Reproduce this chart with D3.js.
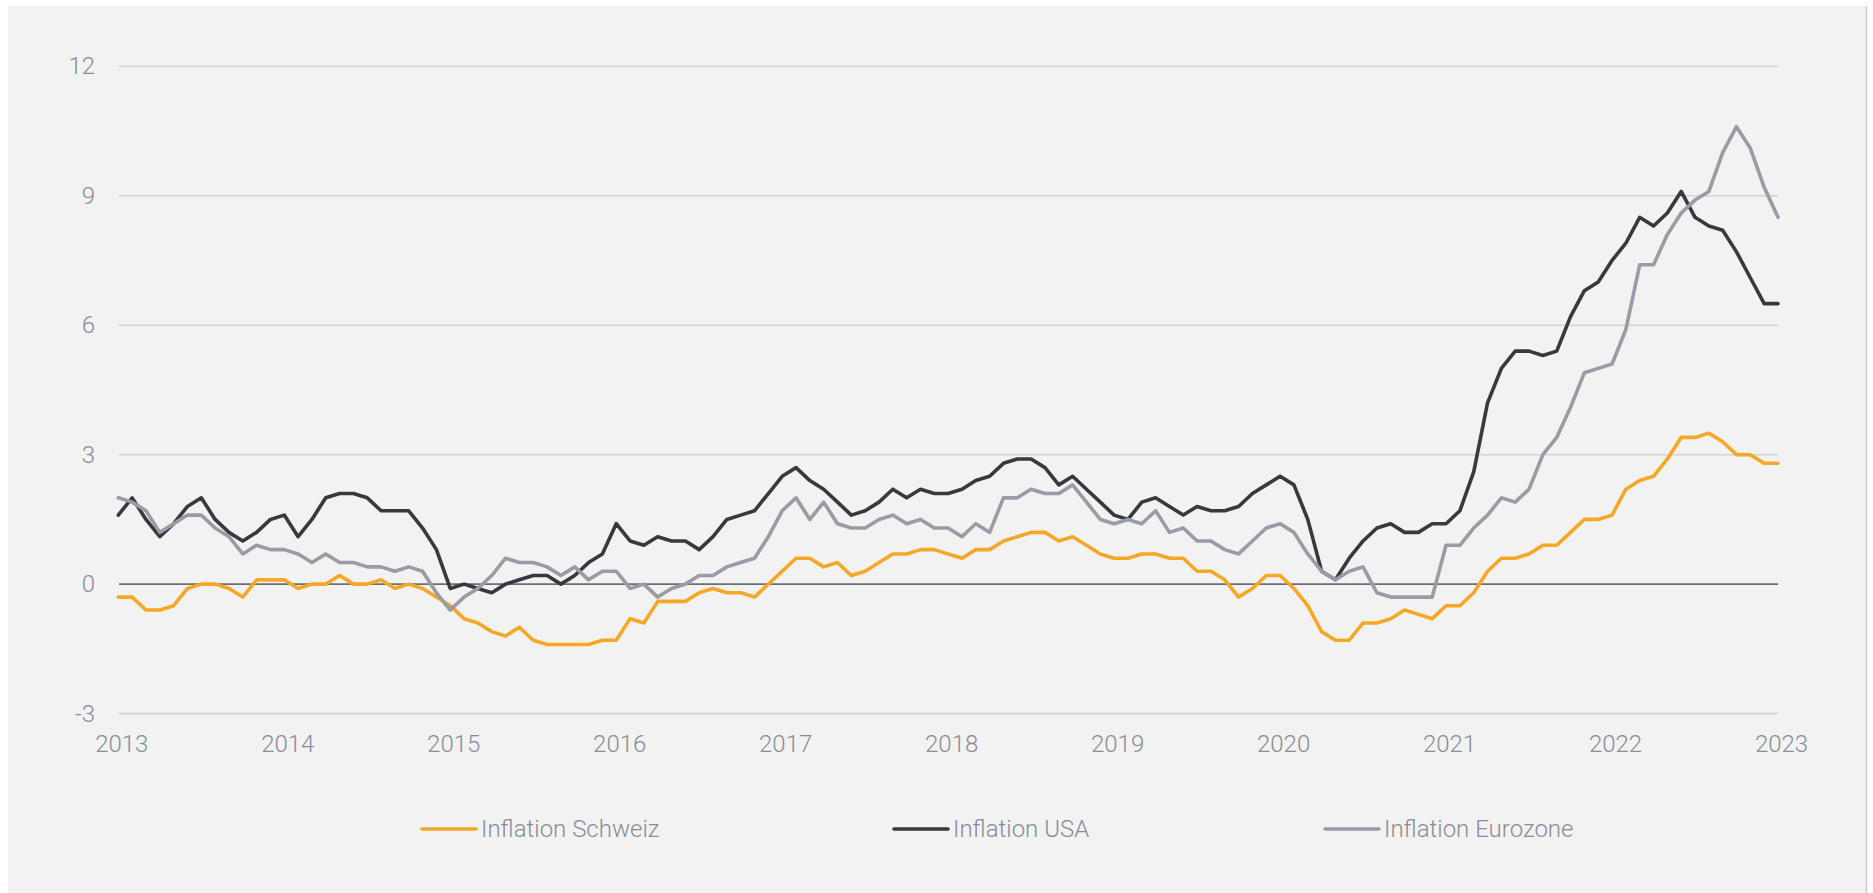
<!DOCTYPE html>
<html>
<head>
<meta charset="utf-8">
<script src="https://cdn.jsdelivr.net/npm/d3@7"></script>
<style>
  body { margin: 0; background: #ffffff; }
  text { font-family: Roboto, "Noto Sans", sans-serif; font-weight: 300; fill: #8a8c96; }
</style>
</head>
<body>
<div id="container"></div>
<script>
/* CONSTANTS AND GLOBALS */
const width = 1873,
  height = 893,
  margin = { top: 66.3, bottom: 179.4, left: 118.3, right: 95 };

// monthly values, Jan 2013 .. Jan 2023
const years = [2013, 2014, 2015, 2016, 2017, 2018, 2019, 2020, 2021, 2022, 2023];
const yTicks = [-3, 0, 3, 6, 9, 12];

const swiss = [
  -0.3, -0.3, -0.6, -0.6, -0.5, -0.1, 0.0, 0.0, -0.1, -0.3, 0.1, 0.1,
  0.1, -0.1, 0.0, 0.0, 0.2, 0.0, 0.0, 0.1, -0.1, 0.0, -0.1, -0.3,
  -0.5, -0.8, -0.9, -1.1, -1.2, -1.0, -1.3, -1.4, -1.4, -1.4, -1.4, -1.3,
  -1.3, -0.8, -0.9, -0.4, -0.4, -0.4, -0.2, -0.1, -0.2, -0.2, -0.3, 0.0,
  0.3, 0.6, 0.6, 0.4, 0.5, 0.2, 0.3, 0.5, 0.7, 0.7, 0.8, 0.8,
  0.7, 0.6, 0.8, 0.8, 1.0, 1.1, 1.2, 1.2, 1.0, 1.1, 0.9, 0.7,
  0.6, 0.6, 0.7, 0.7, 0.6, 0.6, 0.3, 0.3, 0.1, -0.3, -0.1, 0.2,
  0.2, -0.1, -0.5, -1.1, -1.3, -1.3, -0.9, -0.9, -0.8, -0.6, -0.7, -0.8,
  -0.5, -0.5, -0.2, 0.3, 0.6, 0.6, 0.7, 0.9, 0.9, 1.2, 1.5, 1.5,
  1.6, 2.2, 2.4, 2.5, 2.9, 3.4, 3.4, 3.5, 3.3, 3.0, 3.0, 2.8,
  2.8
];

const usa = [
  1.6, 2.0, 1.5, 1.1, 1.4, 1.8, 2.0, 1.5, 1.2, 1.0, 1.2, 1.5,
  1.6, 1.1, 1.5, 2.0, 2.1, 2.1, 2.0, 1.7, 1.7, 1.7, 1.3, 0.8,
  -0.1, 0.0, -0.1, -0.2, 0.0, 0.1, 0.2, 0.2, 0.0, 0.2, 0.5, 0.7,
  1.4, 1.0, 0.9, 1.1, 1.0, 1.0, 0.8, 1.1, 1.5, 1.6, 1.7, 2.1,
  2.5, 2.7, 2.4, 2.2, 1.9, 1.6, 1.7, 1.9, 2.2, 2.0, 2.2, 2.1,
  2.1, 2.2, 2.4, 2.5, 2.8, 2.9, 2.9, 2.7, 2.3, 2.5, 2.2, 1.9,
  1.6, 1.5, 1.9, 2.0, 1.8, 1.6, 1.8, 1.7, 1.7, 1.8, 2.1, 2.3,
  2.5, 2.3, 1.5, 0.3, 0.1, 0.6, 1.0, 1.3, 1.4, 1.2, 1.2, 1.4,
  1.4, 1.7, 2.6, 4.2, 5.0, 5.4, 5.4, 5.3, 5.4, 6.2, 6.8, 7.0,
  7.5, 7.9, 8.5, 8.3, 8.6, 9.1, 8.5, 8.3, 8.2, 7.7, 7.1, 6.5,
  6.5
];

const euro = [
  2.0, 1.9, 1.7, 1.2, 1.4, 1.6, 1.6, 1.3, 1.1, 0.7, 0.9, 0.8,
  0.8, 0.7, 0.5, 0.7, 0.5, 0.5, 0.4, 0.4, 0.3, 0.4, 0.3, -0.2,
  -0.6, -0.3, -0.1, 0.2, 0.6, 0.5, 0.5, 0.4, 0.2, 0.4, 0.1, 0.3,
  0.3, -0.1, 0.0, -0.3, -0.1, 0.0, 0.2, 0.2, 0.4, 0.5, 0.6, 1.1,
  1.7, 2.0, 1.5, 1.9, 1.4, 1.3, 1.3, 1.5, 1.6, 1.4, 1.5, 1.3,
  1.3, 1.1, 1.4, 1.2, 2.0, 2.0, 2.2, 2.1, 2.1, 2.3, 1.9, 1.5,
  1.4, 1.5, 1.4, 1.7, 1.2, 1.3, 1.0, 1.0, 0.8, 0.7, 1.0, 1.3,
  1.4, 1.2, 0.7, 0.3, 0.1, 0.3, 0.4, -0.2, -0.3, -0.3, -0.3, -0.3,
  0.9, 0.9, 1.3, 1.6, 2.0, 1.9, 2.2, 3.0, 3.4, 4.1, 4.9, 5.0,
  5.1, 5.9, 7.4, 7.4, 8.1, 8.6, 8.9, 9.1, 10.0, 10.6, 10.1, 9.2,
  8.5
];

const seriesNames = ["Inflation Schweiz", "Inflation USA", "Inflation Eurozone"];
const seriesColors = ["#f5a827", "#38393e", "#9a9ca5"];

const series = [swiss, usa, euro].map((values, i) => ({
  name: seriesNames[i],
  color: seriesColors[i],
  values: values
}));

/* SCALES */
const xScale = d3.scaleLinear()
  .domain([0, (years.length - 1) * 12])
  .range([margin.left, width - margin.right]);

const yScale = d3.scaleLinear()
  .domain([-3, 12])
  .range([713.6, margin.top]);

/* SVG */
const svg = d3.select("#container")
  .append("svg")
  .attr("width", width)
  .attr("height", height);

// panel
svg.append("rect")
  .attr("x", 8)
  .attr("y", 6)
  .attr("width", 1858)
  .attr("height", height)
  .attr("fill", "#f2f2f2");

svg.append("line")
  .attr("x1", 1866.5).attr("x2", 1866.5)
  .attr("y1", 6).attr("y2", height)
  .attr("stroke", "#c9c9ce")
  .attr("stroke-width", 1.5);

// gridlines
svg.append("g")
  .attr("class", "grid")
  .selectAll("line")
  .data(yTicks)
  .join("line")
  .attr("x1", xScale.range()[0] + 0.7)
  .attr("x2", xScale.range()[1])
  .attr("y1", d => yScale(d))
  .attr("y2", d => yScale(d))
  .attr("stroke", d => d === 0 ? "#6c6e76" : "#d3d3d7")
  .attr("stroke-width", 1.6);

/* AXES */
// plain hyphen for negatives, like the original
const yAxis = d3.axisLeft(yScale)
  .tickValues(yTicks)
  .tickFormat(d => String(d))
  .tickSize(0)
  .tickPadding(24);

const yAxisGroup = svg.append("g")
  .attr("class", "yAxis")
  .attr("transform", `translate(${119}, 0)`)
  .call(yAxis);

const xAxis = d3.axisBottom(xScale)
  .tickValues(years.map((y, i) => i * 12))
  .tickFormat((d, i) => years[i])
  .tickSize(0)
  .tickPadding(21);

const xAxisGroup = svg.append("g")
  .attr("class", "xAxis")
  .attr("transform", `translate(3, ${yScale(-3)})`)
  .call(xAxis);

[yAxisGroup, xAxisGroup].forEach(g => {
  g.select(".domain").remove();
  g.selectAll("text")
    .attr("fill", "#8a8c96")
    .style("font-family", "Roboto, 'Noto Sans', sans-serif")
    .style("font-weight", 300)
    .style("font-size", "24px");
});

/* LINES */
const lineGen = d3.line()
  .x((d, i) => xScale(i))
  .y(d => yScale(d));

svg.append("g")
  .attr("class", "lines")
  .selectAll("path")
  .data(series)
  .join("path")
  .attr("d", d => lineGen(d.values))
  .attr("fill", "none")
  .attr("stroke", d => d.color)
  .attr("stroke-width", 3.6)
  .attr("stroke-linejoin", "round")
  .attr("stroke-linecap", "round");

/* LEGEND */
const legendX = [422, 894, 1325];

const legend = svg.append("g")
  .attr("class", "legend")
  .selectAll("g")
  .data(series)
  .join("g")
  .attr("transform", (d, i) => `translate(${legendX[i]}, ${829})`);

legend.append("line")
  .attr("x1", 0).attr("x2", 54)
  .attr("stroke", d => d.color)
  .attr("stroke-width", 3.6)
  .attr("stroke-linecap", "round");

legend.append("text")
  .attr("x", 59)
  .attr("y", 8)
  .style("font-size", "24px")
  .text(d => d.name);
</script>
</body>
</html>
